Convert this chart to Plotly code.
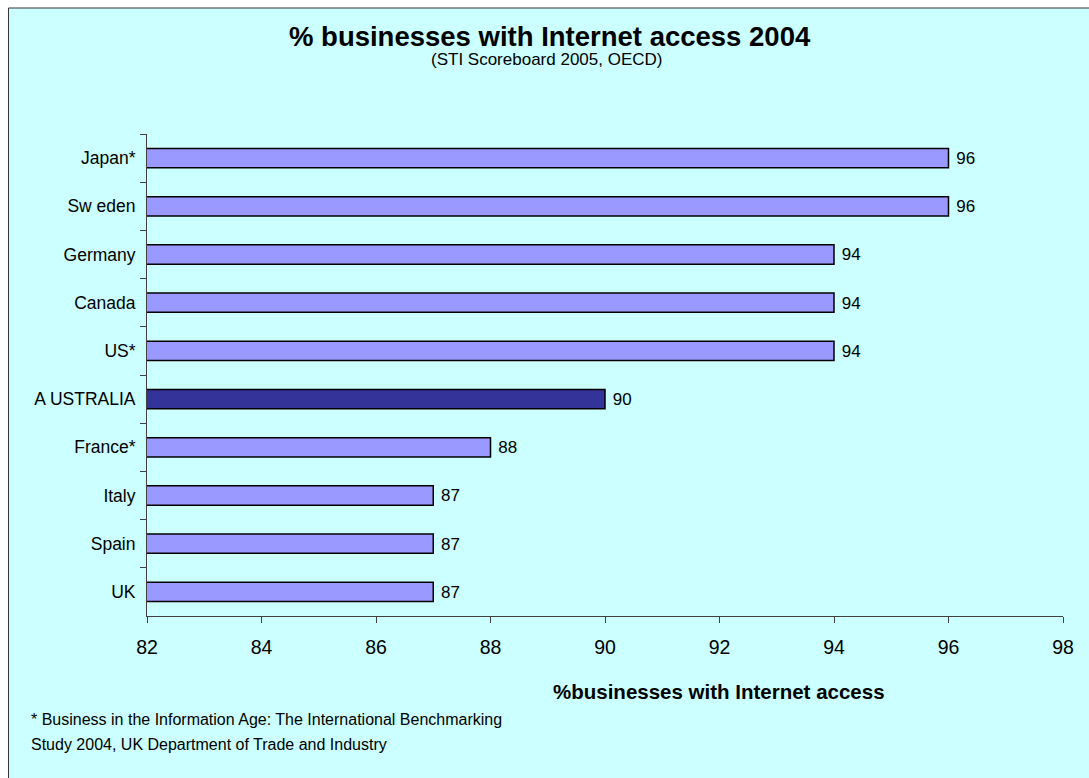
import plotly.graph_objects as go

countries = ["Japan*", "Sw eden", "Germany", "Canada", "US*", "A USTRALIA", "France*", "Italy", "Spain", "UK"]
values = [96, 96, 94, 94, 94, 90, 88, 87, 87, 87]
highlight = "A USTRALIA"
x_ticks = [82, 84, 86, 88, 90, 92, 94, 96, 98]

W, H = 1089, 778
L, R, T, B = 146.5, 26.3, 134, 162
pw, ph = W - L - R, H - T - B

def px(x):
    return (x - L) / pw

def py(y):
    return (H - B - y) / ph

colors = ["#333399" if c == highlight else "#9999FF" for c in countries]

fig = go.Figure(go.Bar(
    x=values, y=countries, orientation="h",
    marker=dict(color=colors, line=dict(color="black", width=1.5)),
    text=[" " + str(v) for v in values], textposition="outside",
    textfont=dict(family="Liberation Sans, Arial", size=18.5, color="black"),
    hoverinfo="skip",
))

fig.update_layout(
    width=W, height=H,
    margin=dict(l=L, r=R, t=T, b=B, pad=0),
    paper_bgcolor="white",
    plot_bgcolor="rgba(0,0,0,0)",
    bargap=0.6,
    showlegend=False,
    font=dict(family="Liberation Sans, Arial", color="black"),
    xaxis=dict(
        range=[82, 98], tickvals=x_ticks, ticktext=[str(t) for t in x_ticks],
        showgrid=False, zeroline=False, showline=True, linecolor="#404040", linewidth=1,
        ticks="outside", ticklen=6, tickcolor="#404040",
        tickfont=dict(size=19.5), ticklabelstandoff=8,
    ),
    yaxis=dict(
        autorange="reversed", type="category",
        showgrid=False, zeroline=False, showline=True, linecolor="#404040", linewidth=1,
        ticks="outside", ticklen=6, tickcolor="#404040", tickson="boundaries",
        tickfont=dict(size=17.5), ticklabelstandoff=7,
    ),
    shapes=[
        dict(type="rect", xref="paper", yref="paper", layer="below",
             x0=px(8), x1=px(W + 10), y0=py(H + 10), y1=py(8),
             fillcolor="#CCFFFF", line=dict(color="#333333", width=1)),
    ],
    annotations=[
        dict(text="<b>% businesses with Internet access 2004</b>", xref="paper", yref="paper",
             x=px(550), y=py(36), showarrow=False, font=dict(size=27.5), xanchor="center", yanchor="middle"),
        dict(text="(STI Scoreboard 2005, OECD)", xref="paper", yref="paper",
             x=px(546), y=py(59), showarrow=False, font=dict(size=17), xanchor="center", yanchor="middle"),
        dict(text="<b>%businesses with Internet access</b>", xref="paper", yref="paper",
             x=px(719), y=py(691), showarrow=False, font=dict(size=20.5), xanchor="center", yanchor="middle"),
        dict(text="* Business in the Information Age: The International Benchmarking", xref="paper", yref="paper",
             x=px(28), y=py(719), showarrow=False, font=dict(size=16), xanchor="left", yanchor="middle"),
        dict(text="Study 2004, UK Department of Trade and Industry", xref="paper", yref="paper",
             x=px(28), y=py(744), showarrow=False, font=dict(size=16), xanchor="left", yanchor="middle"),
    ],
)

fig.write_html("out.html")
